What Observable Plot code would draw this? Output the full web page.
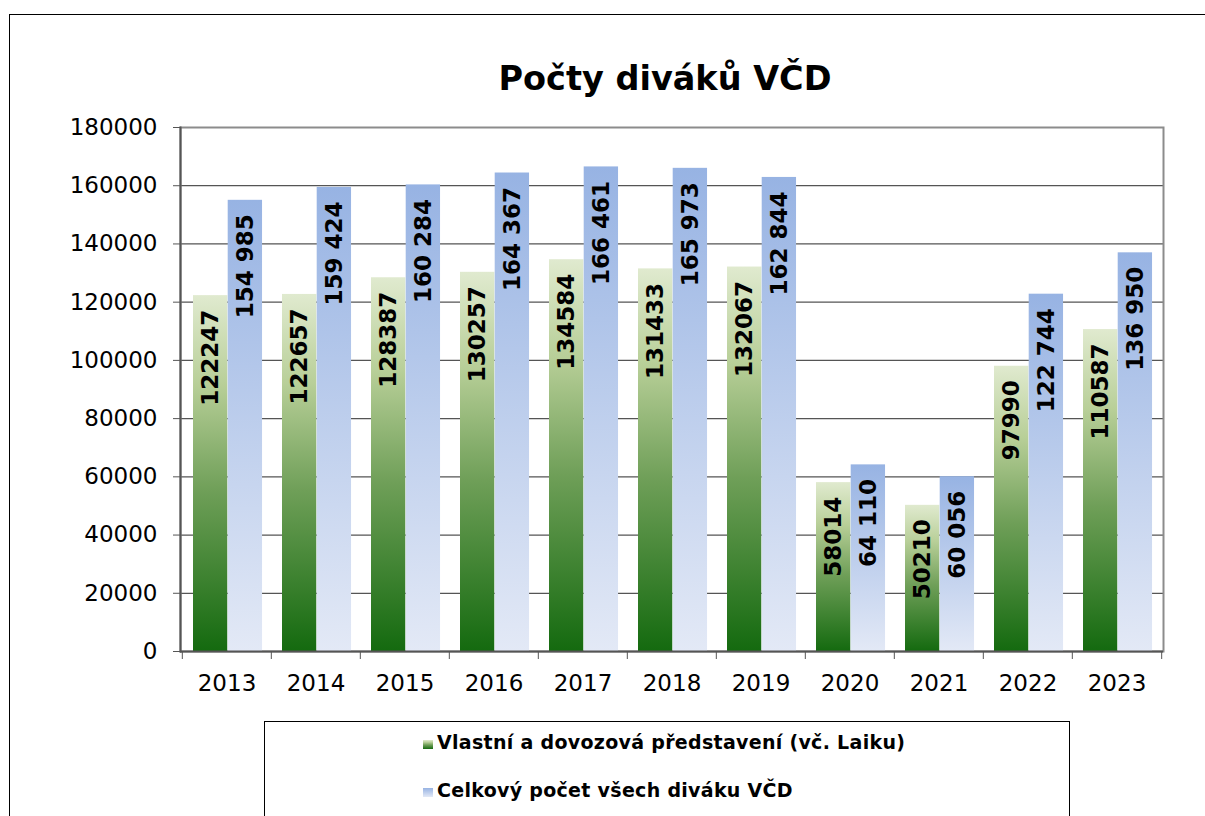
<!DOCTYPE html>
<html>
<head>
<meta charset="utf-8">
<script src="https://cdn.jsdelivr.net/npm/d3@7"></script>
<script src="https://cdn.jsdelivr.net/npm/@observablehq/plot@0.6"></script>
<style>
  body { margin: 0; background: #fff; font-family: "DejaVu Sans", Verdana, sans-serif; overflow: hidden; }
  #frame { position: absolute; left: 9px; top: 14px; width: 1230px; height: 830px; border: 1px solid #000; box-sizing: border-box; }
  #title { position: absolute; left: 365px; top: 62px; width: 600px; text-align: center; font-weight: bold; font-size: 33.5px; line-height: 33px; color: #000; }
  #chart { position: absolute; left: 0; top: 100px; }
  #legend { position: absolute; left: 264px; top: 721px; width: 806px; height: 130px; border: 1px solid #000; box-sizing: border-box; }
  .lrow { position: absolute; left: 423px; font-weight: bold; font-size: 19px; letter-spacing: 0.3px; line-height: 19px; white-space: nowrap; color: #000; }
  .lrow svg { vertical-align: baseline; margin-right: 4px; }
</style>
</head>
<body>
<svg width="0" height="0" style="position:absolute">
  <defs>
    <linearGradient id="gGreen" x1="0" y1="1" x2="0" y2="0">
      <stop offset="0" stop-color="#146a0f"/>
      <stop offset="0.45" stop-color="#6f9f58"/>
      <stop offset="0.75" stop-color="#b8cf98"/>
      <stop offset="1" stop-color="#e0eacf"/>
    </linearGradient>
    <linearGradient id="gBlue" x1="0" y1="1" x2="0" y2="0">
      <stop offset="0" stop-color="#e3e9f6"/>
      <stop offset="1" stop-color="#97b3e3"/>
    </linearGradient>
  </defs>
</svg>
<div id="frame"></div>
<div id="title">Počty diváků VČD</div>
<div id="chart"></div>
<div id="legend"></div>
<div class="lrow" style="top:733px"><svg width="10" height="9"><rect width="10" height="9" fill="url(#gGreen)"/></svg>Vlastní a dovozová představení (vč. Laiku)</div>
<div class="lrow" style="top:781px"><svg width="10" height="9"><rect width="10" height="9" fill="url(#gBlue)"/></svg>Celkový počet všech diváku VČD</div>
<script>
const years = ["2013","2014","2015","2016","2017","2018","2019","2020","2021","2022","2023"];
const ownShows = [122247,122657,128387,130257,134584,131433,132067,58014,50210,97990,110587];
const totalViewers = [154985,159424,160284,164367,166461,165973,162844,64110,60056,122744,136950];
const yTicks = [0,20000,40000,60000,80000,100000,120000,140000,160000,180000];
const seriesNames = ["Vlastní a dovozová představení (vč. Laiku)", "Celkový počet všech diváku VČD"];

const W = 1205, H = 610, mL = 180, mR = 42, mT = 27, mB = 59;
const step = (W - mL - mR) / years.length;
const padL = 11, barW = 34.7;
const greenInsetL = padL, greenInsetR = step - padL - barW;
const blueInsetL = padL + barW, blueInsetR = step - padL - 2 * barW;
const greenDx = padL + barW / 2 - step / 2;
const blueDx = padL + 1.5 * barW - step / 2;

const spaceFmt = d3.formatLocale({decimal: ",", thousands: " ", grouping: [3], currency: ["", ""]}).format(",d");

const own = years.map((y, i) => ({year: y, value: ownShows[i]}));
const total = years.map((y, i) => ({year: y, value: totalViewers[i]}));

const chart = Plot.plot({
  width: W, height: H,
  marginLeft: mL, marginRight: mR, marginTop: mT, marginBottom: mB,
  style: {fontFamily: "DejaVu Sans, Verdana, sans-serif", fontSize: "23px", color: "#000", background: "transparent", overflow: "visible"},
  x: {domain: years, padding: 0, axis: null, label: null},
  y: {domain: [0, 180000], axis: null, label: null},
  marks: [
    Plot.ruleY(yTicks.slice(1, -1), {stroke: "#555", strokeWidth: 1.2}),
    Plot.frame({stroke: "#8c8c8c", strokeWidth: 2}),
    Plot.barY(own, {x: "year", y: "value", fill: "url(#gGreen)", insetLeft: greenInsetL, insetRight: greenInsetR}),
    Plot.barY(total, {x: "year", y: "value", fill: "url(#gBlue)", insetLeft: blueInsetL, insetRight: blueInsetR}),
    Plot.text(own, {x: "year", y: "value", text: d => String(d.value), rotate: -90, textAnchor: "end", dy: 14, dx: greenDx, fontWeight: "bold", fontSize: 23, fill: "#000"}),
    Plot.text(total, {x: "year", y: "value", text: d => spaceFmt(d.value), rotate: -90, textAnchor: "end", dy: 14, dx: blueDx, fontWeight: "bold", fontSize: 23, fill: "#000"}),
    Plot.ruleY([0], {stroke: "#555", strokeWidth: 2}),
    Plot.frame({anchor: "left", stroke: "#555", strokeWidth: 2}),
    Plot.axisY({ticks: yTicks, tickSize: 7, tickPadding: 16, tickFormat: d => String(d), stroke: "#555", fontSize: 23, label: null}),
    Plot.axisX({ticks: years, tickSize: 8, tickFormat: () => "", dx: -step / 2, stroke: "#555", label: null}),
    Plot.axisX({ticks: [years[years.length - 1]], tickSize: 8, tickFormat: () => "", dx: step / 2, stroke: "#555", label: null}),
    Plot.axisX({ticks: years, tickSize: 0, tickPadding: 23, fontSize: 23, label: null})
  ]
});
document.getElementById("chart").appendChild(chart);
</script>
</body>
</html>
